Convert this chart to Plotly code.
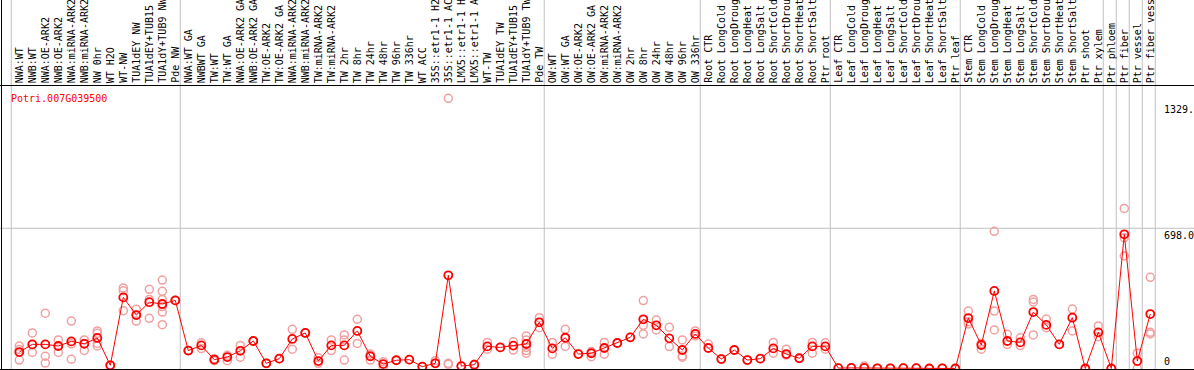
import plotly.graph_objects as go

# ---------------- data ----------------
gene = "Potri.007G039500"

categories = [
    "NWA:WT", "NWB:WT", "NWA:OE-ARK2", "NWB:OE-ARK2", "NWA:miRNA-ARK2", "NWB:miRNA-ARK2",
    "NW 0hr", "WT H2O", "WT-NW", "TUA1dEY NW", "TUA1dEY+TUB15 NW", "TUA1dY+TUB9 NW", "Pde NW",
    "NWA:WT GA", "NWBWT GA", "TW:WT", "TW:WT GA", "NWA:OE-ARK2 GA", "NWB:OE-ARK2 GA",
    "TW:OE-ARK2", "TW:OE-ARK2 GA", "NWA:miRNA-ARK2 GA", "NWB:miRNA-ARK2 GA",
    "TW:miRNA-ARK2", "TW:miRNA-ARK2 GA", "TW 2hr", "TW 8hr", "TW 24hr", "TW 48hr", "TW 96hr",
    "TW 336hr", "WT ACC", "35S::etr1-1 H2O", "35S::etr1-1 ACC", "LMX5::etr1-1 H2O",
    "LMX5::etr1-1 ACC", "WT-TW", "TUA1dEY TW", "TUA1dEY+TUB15 TW", "TUA1dY+TUB9 TW", "Pde TW",
    "OW:WT", "OW:WT GA", "OW:OE-ARK2", "OW:OE-ARK2 GA", "OW:miRNA-ARK2", "OW:miRNA-ARK2 GA",
    "OW 2hr", "OW 8hr", "OW 24hr", "OW 48hr", "OW 96hr", "OW 336hr",
    "Root CTR", "Root LongCold", "Root LongDrought", "Root LongHeat", "Root LongSalt",
    "Root ShortCold", "Root ShortDrought", "Root ShortHeat", "Root ShortSalt", "Ptr root",
    "Leaf CTR", "Leaf LongCold", "Leaf LongDrought", "Leaf LongHeat", "Leaf LongSalt",
    "Leaf ShortCold", "Leaf ShortDrought", "Leaf ShortHeat", "Leaf ShortSalt", "Ptr leaf",
    "Stem CTR", "Stem LongCold", "Stem LongDrought", "Stem LongHeat", "Stem LongSalt",
    "Stem ShortCold", "Stem ShortDrought", "Stem ShortHeat", "Stem ShortSalt",
    "Ptr shoot", "Ptr xylem", "Ptr phloem", "Ptr fiber", "Ptr vessel", "Ptr fiber vessel",
]

means = [
    82, 120, 120, 112, 135, 123, 152, 16, 354, 266, 330, 321, 339,
    89, 115, 44, 57, 88, 137, 26, 49, 147, 177, 37, 115, 115, 187, 61, 22, 41, 44, 9, 26,
    464, 12, 19, 110, 105, 114, 122, 230,
    100, 153, 72, 76, 102, 127, 155, 245, 215, 150, 92, 172,
    102, 47, 92, 42, 49, 100, 72, 51, 110, 110,
    2, 3, 3, 1, 1, 2, 2, 0, 1, 0,
    251, 117, 386, 137, 130, 281, 217, 120, 253, 0,
    180, 0, 668, 37, 271,
]

replicates = [
    [112, 95, 42], [177, 120, 80], [275, 61, 27], [142, 80, 112], [236, 46, 123],
    [142, 90, 125], [187, 175, 125, 112], [16, 16], [401, 387, 288], [295, 236, 266],
    [394, 344, 250], [440, 384, 344, 308, 281, 218], [339, 339],
    [89, 89], [128, 99], [49, 39], [66, 39], [115, 56], [137, 137], [26, 26], [49, 49],
    [195, 96], [177, 177], [54, 26], [142, 89], [167, 142, 42], [245, 125], [72, 42],
    [34, 9], [41], [44], [9], [39, 26], [1345, 21, 26], [12], [21, 17], [130, 96], [105],
    [133, 92], [162, 142, 105, 89, 76], [253, 203],
    [130, 71], [195, 110], [72], [84, 59], [130, 71], [127], [155], [338, 215, 172],
    [241, 192], [205, 109], [142, 62, 56], [187, 162],
    [122], [47], [92], [42], [49], [130, 76], [96, 67], [51], [130, 76], [128, 96],
    [2], [3], [12, 3], [1], [1], [2], [2], [0], [1], [0],
    [286, 233, 221], [125, 96], [683, 286, 192], [170, 120], [153, 114], [344, 331, 167],
    [246, 203], [120], [296, 187], [0],
    [212, 158], [0], [797, 651, 560], [76, 0], [454, 180, 172],
]

# first category index of each group (group separators)
group_starts = [0, 13, 41, 53, 63, 73, 84, 85, 86, 87, 88]

axis_ticks = [1329.0, 698.0, 0]
axis_tick_labels = ["1329.", "698.0", "0"]
grid_value = 698.0

# ---------------- layout constants ----------------
W, H = 1194, 370
px_per_cat = 13.0
x0_px = 19.3
xr0 = -x0_px / px_per_cat
xr1 = xr0 + W / px_per_cat
zero_px_from_top = 368.5
px_per_unit = 0.2009
yr0 = -(H - zero_px_from_top) / px_per_unit
yr1 = zero_px_from_top / px_per_unit

FONT = "DejaVu Sans Mono"
RED = "#ff0000"
PINK = "#f0a0a0"
GRID = "#c0c0c0"
MAX_LABEL_CHARS = 14  # the reference shows labels cut at the top edge

xs = list(range(len(categories)))
rep_x, rep_y = [], []
for i, reps in enumerate(replicates):
    for v in reps:
        rep_x.append(i)
        rep_y.append(v)

fig = go.Figure()
fig.add_trace(go.Scatter(
    x=rep_x, y=rep_y, mode="markers", cliponaxis=False,
    marker=dict(symbol="circle-open", size=8, color=PINK, line=dict(width=1.5, color=PINK)),
    hoverinfo="skip", showlegend=False,
))
fig.add_trace(go.Scatter(
    x=xs, y=means, mode="lines+markers", cliponaxis=False,
    line=dict(color=RED, width=1),
    marker=dict(symbol="circle-open", size=8, color=RED, line=dict(width=1.8, color=RED)),
    showlegend=False,
))

shapes = []
for s in group_starts:
    shapes.append(dict(type="line", xref="x", yref="paper", x0=s - 0.62, x1=s - 0.62,
                       y0=0, y1=1, line=dict(color=GRID, width=1), layer="below"))
shapes.append(dict(type="line", xref="paper", yref="y", x0=0, x1=1, y0=grid_value, y1=grid_value,
                   line=dict(color=GRID, width=1), layer="below"))
top_y = 1 - 85.5 / H
bot_y = 1 - 369.5 / H
shapes.append(dict(type="line", xref="paper", yref="paper", x0=0, x1=1, y0=top_y, y1=top_y,
                   line=dict(color="black", width=1)))
shapes.append(dict(type="line", xref="paper", yref="paper", x0=0, x1=1, y0=bot_y, y1=bot_y,
                   line=dict(color="black", width=1)))
shapes.append(dict(type="line", xref="paper", yref="paper", x0=1.5 / W, x1=1.5 / W, y0=0, y1=1,
                   line=dict(color="black", width=1)))

annotations = []
label_bottom = 1 - 84 / H
for i, c in enumerate(categories):
    annotations.append(dict(
        x=i, y=label_bottom, xref="x", yref="paper", text=c[:MAX_LABEL_CHARS], textangle=-90,
        xanchor="center", yanchor="bottom", showarrow=False, borderpad=0,
        font=dict(family=FONT, size=10, color="black"),
    ))
annotations.append(dict(x=9 / W, y=1 - 91 / H, xref="paper", yref="paper", text=gene,
                        xanchor="left", yanchor="top", showarrow=False,
                        font=dict(family=FONT, size=10, color=RED)))
for v, t in zip(axis_ticks, axis_tick_labels):
    annotations.append(dict(x=1162 / W, y=v, xref="paper", yref="y", text=t,
                            xanchor="left", yanchor="top" if v > 0 else "bottom",
                            showarrow=False,
                            font=dict(family=FONT, size=10, color="black")))

fig.update_layout(
    width=W, height=H, margin=dict(l=0, r=0, t=0, b=0),
    paper_bgcolor="white", plot_bgcolor="white",
    xaxis=dict(range=[xr0, xr1], visible=False, showgrid=False, zeroline=False),
    yaxis=dict(range=[yr0, yr1], visible=False, showgrid=False, zeroline=False),
    shapes=shapes, annotations=annotations, showlegend=False,
)

fig.write_html(
    "out.html",
    config={"displayModeBar": False},
    post_script="document.body.style.margin='0';document.body.style.padding='0';"
                "document.body.style.overflow='hidden';",
)
